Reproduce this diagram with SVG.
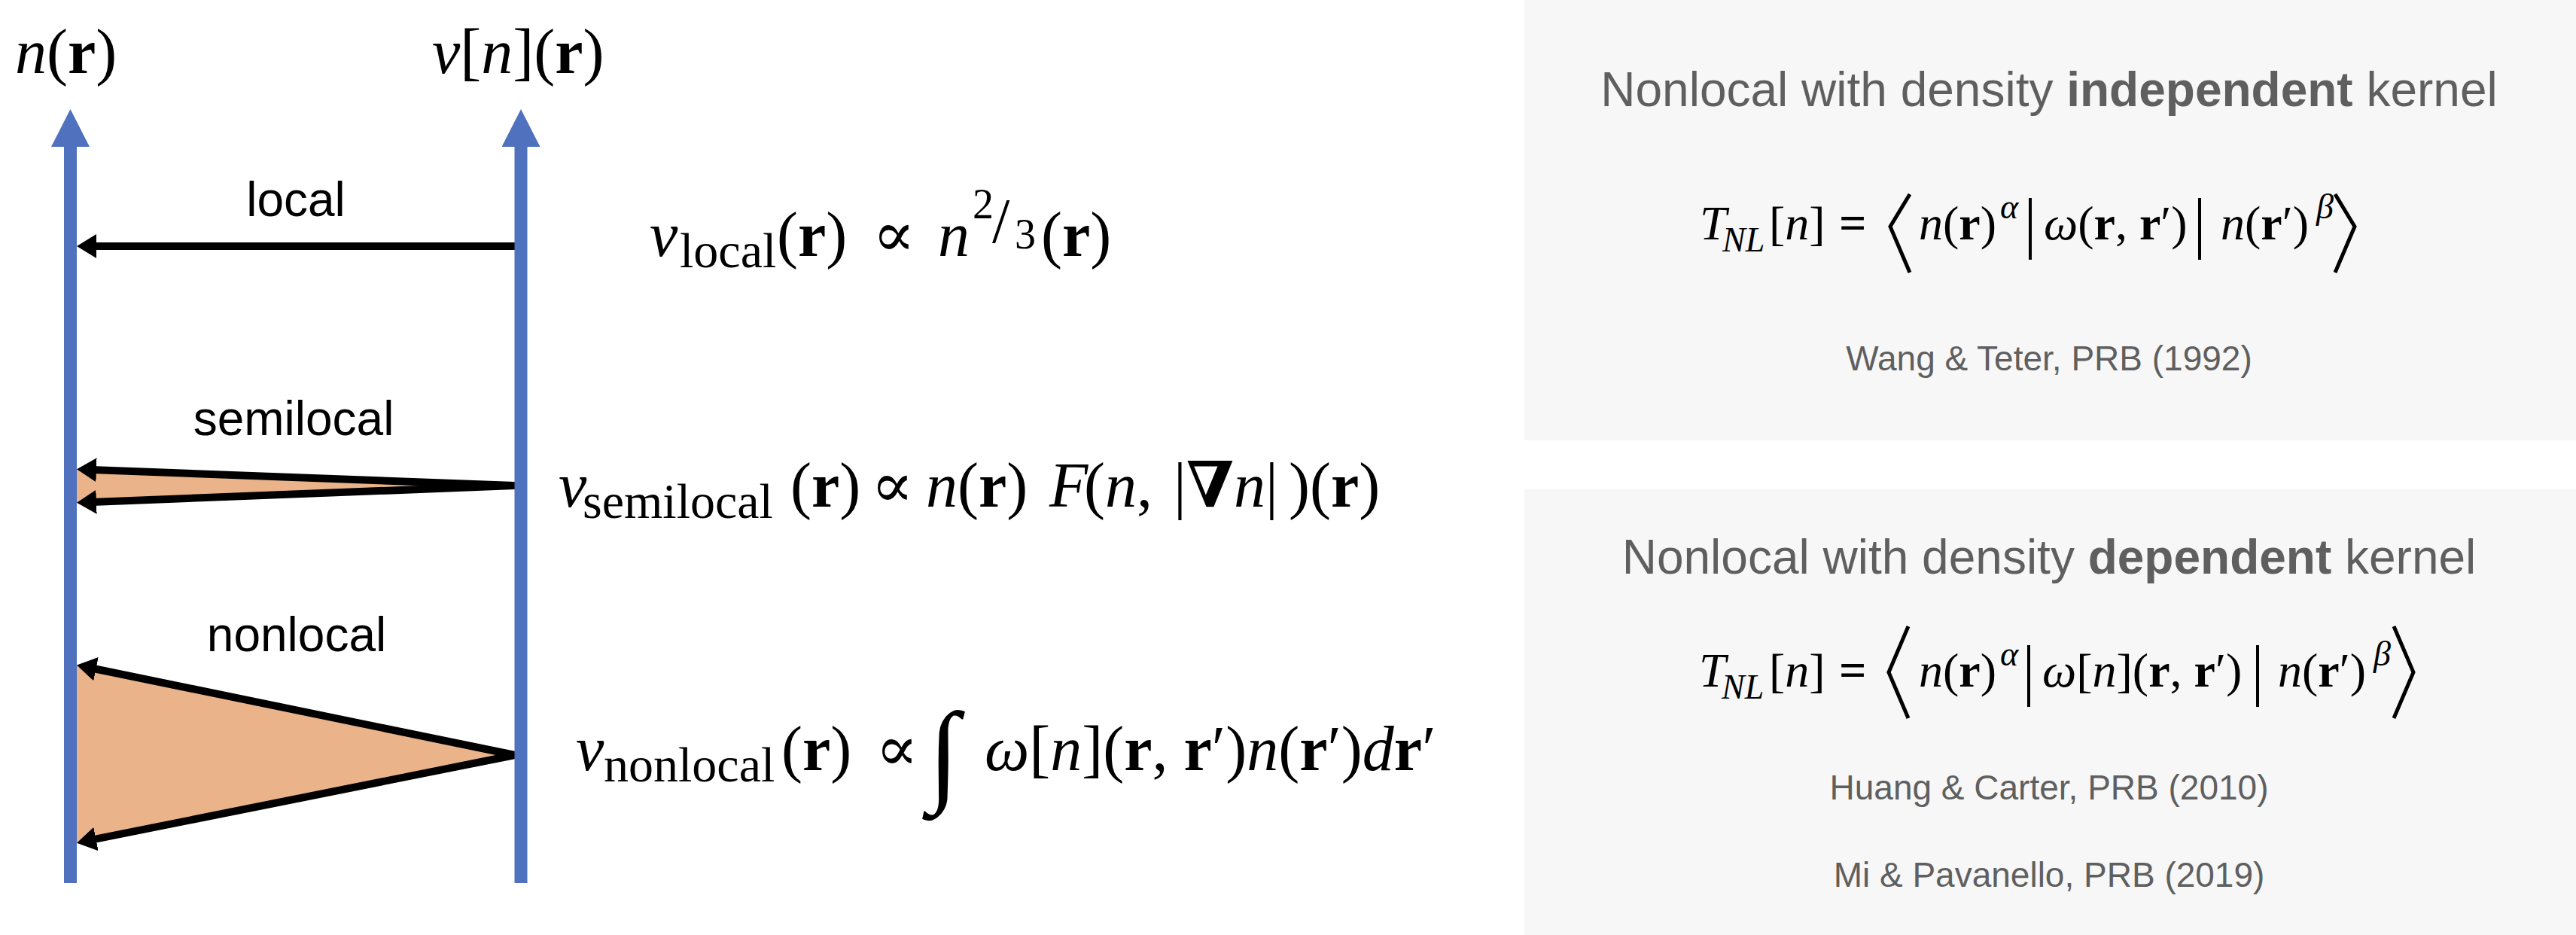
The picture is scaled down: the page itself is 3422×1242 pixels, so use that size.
<svg xmlns="http://www.w3.org/2000/svg" width="3422" height="1242" viewBox="0 0 3422 1242">
<defs>
<style>
.math{font-family:"Liberation Serif","DejaVu Serif",serif;font-size:84px;fill:#000}
.it{font-style:italic}
.bf{font-weight:bold}
.sub{font-size:66px}
.lbl{font-family:"Liberation Sans",Arial,sans-serif;font-size:64px;fill:#000;text-anchor:middle}
.title{font-family:"Liberation Sans",Arial,sans-serif;font-size:64px;fill:#5F5F5F;text-anchor:middle}
.cite{font-family:"Liberation Sans",Arial,sans-serif;font-size:46px;fill:#5F5F5F;text-anchor:middle}
.pm{font-family:"Liberation Serif","DejaVu Serif",serif;font-size:64px;fill:#000}
.psub{font-size:46px}
.axis{stroke:#4F71BE;stroke-width:17;fill:none}
.arr{stroke:#000;stroke-width:10;fill:none}
.fan{fill:#EAB38A;stroke:none}
.panel{fill:#F7F7F7}
.delim{stroke:#000;stroke-width:5;fill:none}
.bar{stroke:#000;stroke-width:4}
</style>
<marker id="blueHead" markerUnits="userSpaceOnUse" viewBox="0 0 50 51" refX="0" refY="25.5" markerWidth="50" markerHeight="51" orient="auto">
<path d="M0,0 L50,25.5 L0,51 z" fill="#4F71BE"/>
</marker>
<marker id="blackHead" markerUnits="userSpaceOnUse" viewBox="0 0 26 32" refX="6" refY="16" markerWidth="26" markerHeight="32" orient="auto">
<path d="M0,0 L26,16 L0,32 z" fill="#000"/>
</marker>
</defs>
<rect width="3422" height="1242" fill="#FFFFFF"/>

<g id="panel-independent">
<rect class="panel" x="2025" y="0" width="1397" height="585"/>
<text class="title" x="2722" y="141">Nonlocal with density <tspan font-weight="bold">independent</tspan> kernel</text>
<text class="pm" y="318"><tspan class="it" x="2258">T</tspan><tspan class="it psub" x="2288" y="334">NL</tspan><tspan x="2350" y="318">[</tspan><tspan class="it">n</tspan>]<tspan class="bf" x="2443">=</tspan><tspan class="it" x="2549">n</tspan>(<tspan class="bf">r</tspan>)<tspan class="it psub" x="2657" y="290">α</tspan><tspan class="it" x="2715" y="318">ω</tspan>(<tspan class="bf">r</tspan>, <tspan class="bf">r</tspan>′)<tspan class="it" x="2950">n</tspan>(<tspan class="bf">r</tspan>′)<tspan class="it psub" x="3077" y="290">β</tspan></text>
<polyline class="delim" points="2537,258 2511,301 2537,362"/>
<line class="bar" x1="2697" y1="263" x2="2697" y2="345"/>
<line class="bar" x1="2922" y1="263" x2="2922" y2="345"/>
<polyline class="delim" points="3102,258 3128,301 3102,362"/>
<text class="cite" x="2722" y="492">Wang &amp; Teter, PRB (1992)</text>
</g>

<g id="panel-dependent">
<rect class="panel" x="2025" y="650" width="1397" height="592"/>
<text class="title" x="2722" y="762">Nonlocal with density <tspan font-weight="bold">dependent</tspan> kernel</text>
<text class="pm" y="912"><tspan class="it" x="2257">T</tspan><tspan class="it psub" x="2287" y="928">NL</tspan><tspan x="2350" y="912">[</tspan><tspan class="it">n</tspan>]<tspan class="bf" x="2443">=</tspan><tspan class="it" x="2549">n</tspan>(<tspan class="bf">r</tspan>)<tspan class="it psub" x="2657" y="884">α</tspan><tspan class="it" x="2713" y="912">ω</tspan>[<tspan class="it">n</tspan>](<tspan class="bf">r</tspan>, <tspan class="bf">r</tspan>′)<tspan class="it" x="3026">n</tspan>(<tspan class="bf">r</tspan>′)<tspan class="it psub" x="3153" y="884">β</tspan></text>
<polyline class="delim" points="2535,832 2509,893 2535,954"/>
<line class="bar" x1="2695" y1="857" x2="2695" y2="939"/>
<line class="bar" x1="2999" y1="857" x2="2999" y2="939"/>
<polyline class="delim" points="3180,832 3206,893 3180,954"/>
<text class="cite" x="2722" y="1062">Huang &amp; Carter, PRB (2010)</text>
<text class="cite" x="2722" y="1178">Mi &amp; Pavanello, PRB (2019)</text>
</g>

<g id="connectors">
<polygon class="fan" points="100,623 684,645 100,668"/>
<polygon class="fan" points="100,883 684,1003 100,1120"/>
<line class="arr" x1="684" y1="327" x2="122" y2="327" marker-end="url(#blackHead)"/>
<line class="arr" x1="684" y1="645" x2="122" y2="624" marker-end="url(#blackHead)"/>
<line class="arr" x1="684" y1="645" x2="122" y2="667" marker-end="url(#blackHead)"/>
<line class="arr" x1="684" y1="1003" x2="121.6" y2="887.5" marker-end="url(#blackHead)"/>
<line class="arr" x1="684" y1="1003" x2="121.6" y2="1115.7" marker-end="url(#blackHead)"/>
</g>

<g id="axis-density">
<line class="axis" x1="93.5" y1="1173" x2="93.5" y2="195" marker-end="url(#blueHead)"/>
<text class="math" x="20" y="97"><tspan class="it">n</tspan>(<tspan class="bf">r</tspan>)</text>
</g>

<g id="axis-potential">
<line class="axis" x1="692" y1="1173" x2="692" y2="195" marker-end="url(#blueHead)"/>
<text class="math" x="574" y="97"><tspan class="it">v</tspan>[<tspan class="it">n</tspan>](<tspan class="bf">r</tspan>)</text>
</g>

<g id="label-local">
<text class="lbl" x="393" y="287">local</text>
</g>
<g id="label-semilocal">
<text class="lbl" x="390" y="578">semilocal</text>
</g>
<g id="label-nonlocal">
<text class="lbl" x="394" y="865">nonlocal</text>
</g>

<g id="formula-local">
<text class="math" y="340"><tspan class="it" x="863">v</tspan><tspan class="sub" x="903" y="355">local</tspan><tspan x="1032" y="340">(</tspan><tspan class="bf">r</tspan>)<tspan x="1159">∝</tspan><tspan class="it" x="1246">n</tspan><tspan font-size="56" x="1292" y="290">2</tspan><tspan x="1318" y="322">/</tspan><tspan font-size="56" x="1348" y="330">3</tspan><tspan x="1383" y="340">(</tspan><tspan class="bf">r</tspan>)</text>
</g>

<g id="formula-semilocal">
<text class="math" y="673"><tspan class="it" x="742">v</tspan><tspan class="sub" x="774" y="688">semilocal</tspan><tspan x="1050" y="673">(</tspan><tspan class="bf">r</tspan>)<tspan x="1157">∝</tspan><tspan class="it" x="1230">n</tspan>(<tspan class="bf">r</tspan>)<tspan class="it" x="1394">F</tspan><tspan x="1440">(</tspan><tspan class="it">n</tspan>,<tspan x="1559">|</tspan><tspan class="bf">∇</tspan><tspan class="it">n</tspan>|<tspan x="1712">)(</tspan><tspan class="bf">r</tspan>)</text>
</g>

<g id="formula-nonlocal">
<text class="math" y="1023"><tspan class="it" x="765">v</tspan><tspan class="sub" x="802" y="1038">nonlocal</tspan><tspan x="1038" y="1023">(</tspan><tspan class="bf">r</tspan>)<tspan x="1163">∝</tspan><tspan font-size="150" x="1233" y="1050">∫</tspan><tspan class="it" x="1308" y="1023">ω</tspan>[<tspan class="it">n</tspan>](<tspan class="bf">r</tspan>, <tspan class="bf">r</tspan>′)<tspan class="it">n</tspan>(<tspan class="bf">r</tspan>′)<tspan class="it">d</tspan><tspan class="bf">r</tspan>′</text>
</g>
</svg>
